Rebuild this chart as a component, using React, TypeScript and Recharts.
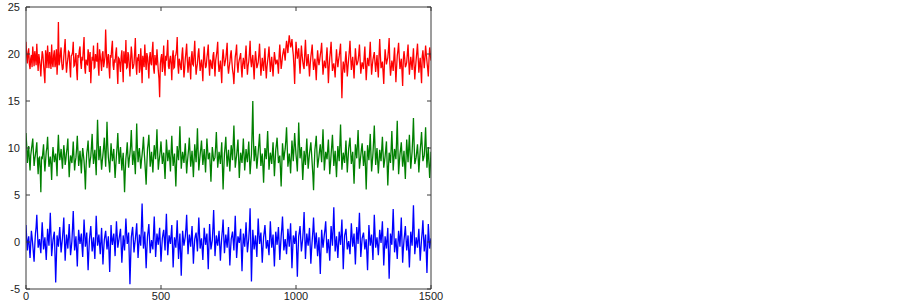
import React from "react";
import { LineChart, Line, XAxis, YAxis } from "recharts";

const SAMPLE_STEP = 5;
const X_TICKS = [0, 500, 1000, 1500];
const Y_TICKS = [-5, 0, 5, 10, 15, 20, 25];

// samples at t = 0, 5, 10, ... 1500
const RED_VALUES = [
  21.3, 19.0, 20.6, 18.4, 19.9, 20.8, 18.7, 19.6, 21.1, 18.2,
  19.4, 17.6, 20.3, 18.9, 16.9, 19.8, 20.9, 18.5, 19.3, 21.0,
  18.6, 20.4, 19.1, 17.8, 23.4, 19.2, 20.7, 18.3, 19.7, 21.6,
  18.0, 19.5, 20.2, 17.5, 19.9, 21.3, 18.8, 20.1, 17.2, 19.6,
  20.8, 18.4, 19.3, 21.8, 17.9, 19.0, 20.5, 18.1, 16.9, 19.7,
  20.9, 18.6, 19.4, 21.2, 17.7, 19.8, 18.2, 20.3, 19.1, 22.6,
  18.5, 20.0, 17.4, 19.6, 21.4, 18.3, 19.2, 20.7, 16.8, 19.5,
  18.1, 20.4, 17.0, 19.3, 21.5, 18.6, 19.9, 17.6, 20.8, 18.4,
  19.0, 21.7, 17.8, 19.4, 18.0, 20.6, 16.9, 19.2, 21.0, 18.3,
  19.7, 17.4, 20.2, 18.8, 21.3, 17.9, 19.1, 20.5, 18.2, 15.4,
  19.6, 18.1, 20.9, 17.7, 19.3, 21.5, 18.4, 19.8, 17.2, 20.4,
  18.6, 19.9, 21.8, 17.9, 19.2, 18.3, 20.7, 17.5, 19.5, 21.1,
  18.0, 19.7, 17.3, 20.3, 18.8, 21.4, 17.8, 19.0, 20.6, 18.2,
  19.4, 17.1, 20.8, 18.5, 19.6, 21.0, 17.7, 19.2, 18.4, 20.2,
  17.6, 19.8, 21.3, 18.1, 19.3, 16.9, 20.5, 18.7, 19.5, 21.2,
  17.9, 19.1, 20.4, 18.3, 16.8, 19.7, 21.0, 18.0, 19.4, 20.1,
  17.5, 19.6, 18.4, 20.9, 17.8, 19.2, 21.4, 18.6, 19.9, 17.3,
  20.3, 18.5, 19.1, 21.1, 17.7, 19.6, 18.2, 20.6, 17.4, 19.3,
  20.8, 18.1, 19.7, 17.6, 20.2, 18.9, 19.4, 17.9, 21.0, 18.4,
  19.8, 20.6, 19.3, 21.4, 20.1, 22.0, 20.7, 21.6, 19.9, 16.8,
  21.3, 19.5, 20.6, 17.9, 20.9, 19.2, 18.4, 21.5, 18.7, 20.0,
  17.6, 19.7, 21.0, 18.3, 19.5, 17.2, 20.4, 18.8, 19.9, 21.2,
  17.8, 19.3, 18.5, 20.7, 16.9, 19.6, 21.3, 18.2, 19.0, 17.5,
  20.5, 18.6, 19.8, 21.1, 15.3, 19.2, 18.0, 20.3, 17.6, 19.5,
  21.4, 18.3, 19.7, 17.4, 20.6, 18.8, 19.3, 21.0, 17.9, 19.1,
  18.4, 20.8, 17.2, 19.6, 18.7, 21.3, 17.8, 19.4, 20.2, 18.1,
  19.9, 17.5, 21.6, 18.5, 19.2, 16.8, 20.5, 18.9, 19.6, 21.7,
  17.7, 19.3, 18.2, 20.7, 17.0, 19.8, 21.2, 18.4, 19.5, 16.6,
  20.3, 18.6, 19.1, 21.0, 17.8, 19.7, 18.3, 20.6, 17.3, 19.4,
  21.1, 18.0, 19.6, 16.9, 20.4, 18.5, 20.9, 19.2, 17.6, 20.7,
  19.3,
];

// samples at t = 2.5, 7.5, ... 1497.5
const RED_MID_VALUES = [
  19.8, 20.1, 18.9, 19.5, 18.6, 19.7, 20.3, 18.8, 19.4, 20.0,
  18.7, 19.2, 19.9, 17.9, 20.4, 18.5, 19.6, 20.2, 18.4, 19.1,
  19.9, 18.6, 20.5, 19.3, 18.8, 20.1, 19.0, 18.5, 20.6, 19.4,
  18.9, 20.3, 18.6, 19.8, 20.2, 18.7, 19.5, 18.3, 19.9, 20.4,
  19.1, 19.7, 20.6, 18.6, 19.4, 18.9, 19.8, 20.2, 18.8, 19.3,
  18.5, 20.0, 19.2, 18.7, 20.5, 19.1, 20.0, 18.6, 19.7, 20.3,
  19.4, 18.6, 19.9, 20.6, 18.8, 19.3, 20.1, 18.4, 19.6, 18.9,
  19.7, 18.8, 20.3, 19.0, 18.5, 20.2, 18.7, 19.4, 19.9, 18.6,
  20.2, 18.9, 19.5, 20.0, 18.4, 19.1, 19.8, 18.6, 19.4, 20.1,
  18.7, 19.6, 19.0, 20.3, 18.5, 19.9, 18.8, 19.3, 17.4, 18.9,
  20.0, 19.2, 18.6, 19.8, 20.3, 18.7, 19.4, 18.9, 19.7, 18.5,
  19.8, 20.4, 18.8, 19.5, 18.6, 19.9, 19.1, 18.4, 20.2, 19.3,
  19.0, 18.6, 19.7, 18.9, 20.1, 19.2, 18.5, 20.0, 19.3, 18.8,
  18.5, 19.6, 19.3, 18.7, 20.2, 18.9, 19.4, 18.6, 19.8, 18.9,
  19.3, 20.4, 19.0, 18.6, 18.2, 19.5, 19.6, 19.1, 20.3, 18.7,
  18.6, 19.9, 19.2, 17.8, 18.4, 20.2, 18.9, 19.0, 19.7, 18.5,
  18.9, 19.0, 19.8, 19.2, 18.7, 20.1, 19.3, 19.4, 18.6, 19.2,
  19.5, 18.8, 20.0, 19.3, 18.6, 18.9, 19.5, 18.7, 18.6, 19.9,
  19.4, 18.9, 18.7, 19.0, 19.6, 19.2, 18.8, 19.8, 19.6, 19.0,
  20.2, 19.9, 20.6, 20.8, 21.2, 21.3, 21.0, 20.6, 18.6, 19.5,
  20.4, 20.0, 19.1, 19.6, 19.9, 18.7, 20.1, 19.8, 19.2, 18.9,
  18.8, 20.3, 19.5, 18.9, 18.6, 19.0, 19.5, 19.3, 20.4, 19.4,
  18.6, 18.8, 19.7, 18.9, 18.5, 20.3, 19.6, 18.7, 18.4, 19.2,
  19.4, 19.3, 20.4, 18.2, 17.9, 18.7, 19.3, 19.0, 18.6, 20.3,
  19.7, 19.0, 18.6, 19.1, 19.6, 19.0, 20.0, 19.4, 18.6, 18.8,
  19.7, 19.0, 18.5, 19.1, 20.0, 19.4, 18.7, 19.8, 19.1, 19.0,
  18.6, 19.8, 19.9, 18.8, 18.1, 18.9, 19.7, 19.3, 20.5, 19.0,
  18.4, 18.9, 19.6, 18.8, 18.5, 20.4, 19.6, 18.9, 18.2, 19.4,
  19.6, 18.8, 20.1, 19.3, 18.8, 19.0, 19.5, 18.7, 18.5, 20.2,
  19.6, 18.9, 18.3, 19.7, 19.5, 19.6, 20.0, 18.5, 19.3, 20.0,
];

const GREEN_VALUES = [
  11.6, 8.4, 10.2, 7.6, 9.8, 11.0, 8.1, 9.3, 10.6, 7.2,
  9.0, 5.3, 8.8, 10.4, 7.5, 9.6, 11.2, 8.0, 9.1, 6.6,
  10.1, 8.5, 9.4, 7.0, 11.4, 8.7, 9.9, 7.8, 10.3, 8.2,
  9.5, 11.0, 6.9, 9.2, 8.4, 10.7, 7.6, 9.0, 11.3, 8.1,
  9.7, 7.3, 10.0, 8.6, 5.6, 9.4, 10.8, 7.9, 9.1, 11.5,
  8.3, 9.8, 7.1, 13.0, 8.7, 10.2, 7.7, 9.3, 11.1, 8.0,
  12.8, 9.0, 7.4, 10.5, 8.6, 9.9, 6.8, 9.2, 11.6, 8.3,
  10.1, 7.6, 9.5, 5.3, 8.9, 10.6, 7.9, 9.4, 11.9, 8.2,
  9.7, 7.2, 12.6, 8.5, 10.0, 7.8, 9.3, 11.2, 8.6, 6.1,
  9.9, 11.4, 8.0, 9.6, 7.4, 10.3, 8.8, 12.0, 7.7, 9.1,
  10.7, 8.3, 9.5, 6.7, 10.9, 8.6, 9.8, 7.5, 11.3, 8.1,
  9.4, 5.9, 10.2, 8.7, 12.3, 7.8, 9.6, 8.4, 10.5, 7.3,
  9.2, 11.1, 8.0, 9.7, 6.9, 10.4, 8.5, 12.1, 7.6, 9.3,
  10.8, 8.2, 9.9, 7.4, 11.0, 8.8, 9.5, 6.4, 10.1, 8.6,
  9.0, 11.7, 7.9, 9.6, 8.3, 10.6, 5.6, 9.4, 11.2, 8.0,
  9.8, 7.5, 10.3, 8.7, 12.4, 7.9, 9.2, 10.9, 6.8, 9.5,
  8.4, 11.0, 7.6, 9.9, 8.5, 10.7, 7.2, 9.3, 15.0, 8.6,
  10.2, 7.8, 9.6, 11.5, 8.1, 9.4, 6.3, 10.0, 8.8, 11.8,
  7.7, 9.5, 8.3, 10.6, 7.0, 9.8, 11.1, 8.4, 9.2, 5.9,
  10.5, 8.7, 9.9, 12.2, 8.0, 9.4, 7.3, 10.8, 8.6, 11.6,
  9.3, 7.5, 12.7, 8.9, 10.1, 6.6, 9.7, 8.2, 11.0, 7.8,
  9.4, 10.6, 8.3, 5.5, 9.8, 11.3, 7.9, 9.1, 10.4, 8.5,
  12.0, 7.6, 9.6, 8.8, 10.9, 7.2, 9.3, 11.4, 8.1, 9.7,
  6.9, 10.2, 8.6, 12.5, 7.7, 9.5, 8.4, 10.8, 7.4, 9.9,
  11.1, 8.3, 9.6, 6.2, 10.4, 8.9, 11.9, 7.8, 9.2, 10.5,
  8.1, 9.7, 5.6, 10.3, 8.7, 11.5, 7.5, 9.4, 12.4, 8.2,
  10.0, 7.3, 9.8, 8.6, 11.2, 7.9, 9.1, 10.7, 6.0, 9.5,
  8.4, 11.8, 7.6, 9.9, 8.8, 12.9, 7.2, 9.3, 10.6, 8.0,
  9.7, 6.7, 10.9, 8.5, 11.4, 7.8, 9.6, 13.2, 8.3, 9.0,
  10.4, 7.4, 9.8, 11.7, 8.6, 9.2, 12.2, 7.9, 10.1, 6.8,
  9.6,
];

const GREEN_MID_VALUES = [
  10.3, 9.4, 8.7, 9.2, 10.4, 9.5, 8.8, 9.9, 8.6, 8.9,
  7.8, 9.1, 9.6, 8.7, 8.6, 10.1, 9.4, 8.5, 8.2, 8.9,
  9.3, 9.0, 8.4, 9.8, 9.6, 9.2, 8.8, 9.1, 9.5, 8.7,
  10.1, 8.8, 8.3, 8.9, 9.4, 9.1, 8.5, 10.0, 9.6, 8.8,
  8.6, 8.9, 9.3, 7.4, 8.0, 10.0, 9.2, 8.6, 10.2, 9.6,
  9.1, 8.6, 10.2, 10.6, 9.4, 8.8, 8.6, 10.1, 9.4, 10.0,
  10.4, 8.3, 9.0, 9.4, 9.2, 8.3, 8.1, 10.2, 9.8, 9.2,
  8.9, 8.7, 7.6, 7.4, 9.6, 9.1, 8.8, 10.3, 9.9, 9.0,
  8.5, 9.8, 10.1, 9.3, 8.9, 8.6, 10.1, 9.7, 7.4, 8.2,
  10.5, 9.7, 8.8, 8.5, 9.0, 9.5, 10.2, 9.6, 8.5, 9.8,
  9.4, 8.9, 8.1, 8.8, 9.8, 9.2, 8.7, 9.6, 9.4, 8.8,
  7.8, 8.3, 9.4, 10.2, 9.8, 8.7, 9.0, 9.5, 8.9, 8.4,
  10.0, 9.5, 8.8, 8.4, 8.7, 9.5, 10.1, 9.6, 8.5, 10.0,
  9.4, 9.0, 8.7, 9.2, 9.9, 9.1, 8.0, 8.5, 9.4, 8.8,
  10.2, 9.8, 8.7, 9.0, 9.5, 8.0, 7.7, 10.2, 9.4, 8.9,
  8.7, 9.0, 9.6, 10.5, 10.0, 8.6, 10.0, 8.9, 8.3, 9.0,
  9.6, 9.3, 8.7, 9.1, 9.6, 9.0, 8.3, 11.8, 10.8, 9.4,
  9.0, 8.7, 10.5, 9.7, 8.9, 8.0, 8.4, 9.5, 10.2, 9.8,
  8.6, 9.0, 9.4, 8.9, 8.4, 10.4, 9.7, 8.8, 7.7, 8.2,
  9.6, 9.4, 10.9, 10.1, 8.7, 8.5, 9.0, 9.7, 10.0, 10.4,
  8.5, 9.9, 10.6, 9.5, 8.4, 8.1, 9.0, 9.6, 9.4, 8.6,
  10.0, 9.5, 7.1, 8.0, 10.5, 9.6, 8.5, 9.8, 9.4, 10.2,
  9.8, 8.6, 9.2, 9.9, 9.1, 8.2, 10.3, 9.7, 8.9, 8.3,
  8.7, 9.4, 10.4, 10.0, 8.6, 9.0, 9.5, 9.1, 8.7, 10.5,
  9.6, 8.9, 8.0, 8.3, 9.7, 10.4, 9.8, 8.5, 9.9, 9.3,
  8.9, 7.8, 8.1, 9.5, 10.1, 9.4, 8.4, 10.8, 10.2, 9.1,
  8.6, 8.5, 9.2, 9.9, 9.5, 8.5, 9.9, 8.3, 7.9, 9.0,
  10.0, 9.7, 8.8, 9.4, 10.7, 9.9, 8.3, 9.9, 9.2, 8.8,
  8.2, 8.9, 9.7, 10.0, 9.5, 8.7, 11.2, 10.4, 8.6, 9.7,
  9.0, 8.6, 10.6, 10.1, 8.9, 10.5, 9.8, 9.1, 8.4, 8.1,
];

const BLUE_VALUES = [
  1.8, -0.9, 0.6, -1.7, 1.2, -0.3, -2.1, 0.9, 2.9, -0.6,
  0.3, -1.2, 2.1, -0.8, 0.5, -1.9, 1.4, -0.4, 3.1, -1.5,
  0.2, 1.1, -4.3, 0.7, -0.5, 1.6, -1.1, 0.4, 2.6, -2.0,
  0.8, -0.7, 1.9, -1.4, 0.1, 3.3, -0.9, 0.6, -2.6, 1.3,
  -0.2, 0.9, -1.6, 2.4, -0.5, 1.0, -3.0, 0.3, 1.7, -1.0,
  0.5, -1.8, 2.8, -0.4, 0.8, -1.3, 1.5, -2.4, 0.2, 1.2,
  -0.8, 0.6, -3.2, 1.8, -0.3, 0.9, -1.5, 2.2, -0.6, 0.4,
  1.4, -2.2, 0.7, -0.9, 2.5, -0.2, 1.0, -4.5, 0.5, 1.6,
  -1.1, 0.3, 2.0, -1.7, 0.8, -0.4, 4.1, -0.7, 1.1, -2.8,
  0.6, 1.9, -1.2, 0.2, -0.8, 2.7, -1.6, 0.9, -0.3, 1.5,
  -2.1, 0.4, 1.3, -0.9, 3.0, -1.4, 0.7, -0.2, 1.8, -2.7,
  0.5, -0.6, 2.3, -1.8, 0.9, -3.6, 1.2, -0.4, 0.6, 2.9,
  -1.3, 0.8, -0.5, 1.7, -2.3, 0.3, 1.0, -1.0, 2.6, -0.7,
  0.4, -1.9, 1.5, -0.3, 0.9, -2.9, 1.9, -0.8, 0.2, 3.4,
  -1.5, 0.7, -0.4, 1.2, -2.0, 0.5, 2.4, -1.2, 0.8, -0.6,
  1.6, -2.5, 0.3, 1.1, -0.9, 2.8, -1.7, 0.6, -0.1, 1.4,
  -3.1, 0.9, -0.5, 2.1, -1.1, 0.4, 3.6, -4.2, 1.3, -0.8,
  0.7, -1.6, 2.5, -0.2, 1.0, -2.2, 0.5, 1.8, -0.7, 0.2,
  -1.4, 2.2, -0.6, 0.8, -2.6, 1.1, -0.3, 1.6, -1.9, 0.6,
  2.7, -0.9, 0.3, -1.3, 1.4, -0.5, 2.0, -2.8, 0.7, -0.2,
  1.2, -3.7, 0.6, 1.7, -1.0, 0.4, 3.2, -1.8, 0.9, -0.4,
  1.5, -2.3, 0.2, 2.6, -0.7, 1.0, -1.5, 0.5, -3.4, 1.3,
  -0.6, 0.8, 2.2, -1.2, 0.3, -2.0, 1.7, -0.4, 3.7, -1.0,
  0.6, -1.7, 1.1, -0.3, 2.4, -2.9, 0.7, 1.4, -0.8, 0.1,
  -1.3, 2.0, -0.5, 0.9, -2.4, 1.6, -0.2, 3.1, -1.6, 0.4,
  1.0, -0.8, 0.3, -3.0, 1.8, -0.4, 0.8, -1.9, 2.9, -0.6,
  0.5, -1.4, 1.3, -0.1, 2.2, -2.5, 0.6, -0.7, 1.5, -3.9,
  0.9, -0.3, 3.5, -1.1, 0.4, -1.8, 1.2, -0.5, 2.6, -2.2,
  0.2, 1.7, -0.9, 0.7, -2.7, 1.1, -0.4, 3.9, -1.3, 0.5,
  -0.6, 1.4, -2.0, 0.3, 2.3, -1.0, 0.8, -3.3, 1.9, -0.7,
  0.4,
];

const BLUE_MID_VALUES = [
  0.4, 0.1, -0.6, -0.2, 0.5, -1.2, -0.4, 1.6, 1.0, -0.1,
  -0.5, 0.6, 0.7, -0.2, -0.7, -0.3, 0.5, 1.2, 0.8, -0.6,
  0.7, -1.5, -1.8, 0.1, 0.6, 0.2, -0.3, 1.4, 0.2, -0.5,
  0.1, 0.6, 0.3, -0.7, 1.6, 1.1, -0.2, -0.9, -0.4, 0.5,
  0.4, -0.5, 0.3, 0.9, 0.2, -1.0, -1.2, 1.0, 0.3, -0.3,
  -0.6, 0.4, 1.1, 0.2, -0.3, 0.1, -0.4, -0.9, 0.7, 0.2,
  -0.1, -1.2, -0.7, 0.3, 0.4, -0.2, 0.4, 0.8, -0.1, 0.9,
  -0.4, -0.8, -0.1, 0.8, 1.0, 0.3, -1.6, -1.9, 1.1, 0.2,
  -0.3, 1.1, 0.2, -0.5, 0.2, 1.7, 1.5, 0.1, -0.8, -0.9,
  1.2, 0.3, -0.5, -0.3, 1.0, 0.6, -0.4, 0.3, 0.6, -0.3,
  -0.8, 0.9, 0.2, 1.1, 0.7, -0.3, 0.3, 0.8, -0.4, -0.9,
  0.0, 0.8, 0.1, -0.4, -1.2, -1.1, 0.4, 0.1, 1.5, 0.8,
  -0.2, 0.2, 0.6, -0.3, -0.8, 0.7, 0.0, 0.8, 0.9, -0.1,
  -0.7, -0.2, 0.6, 0.3, -0.9, -0.4, 0.5, -0.3, 1.6, 1.0,
  -0.4, 0.1, 0.4, -0.4, -0.6, 1.3, 0.5, -0.2, 0.1, 0.6,
  -0.5, -0.9, 0.7, 0.1, 0.8, 0.6, -0.6, 0.3, 0.6, -0.8,
  -0.9, 0.2, 0.7, 0.5, -0.4, 1.6, -0.2, -1.3, 0.2, -0.1,
  -0.4, 0.5, 1.0, 0.4, -0.5, -0.8, 1.1, 0.6, -0.3, -0.6,
  0.4, 0.7, 0.1, -0.9, -0.7, 0.4, 0.6, -0.1, -0.6, 1.5,
  0.9, -0.3, -0.5, 0.0, 0.5, 0.7, -0.4, -1.0, 0.3, 0.5,
  -1.1, -1.2, 1.1, 0.3, -0.3, 1.6, 0.7, -0.4, 0.2, 0.5,
  -0.4, -0.9, 1.2, 0.9, 0.2, -0.2, -0.5, -1.4, -1.0, 0.3,
  0.1, 1.4, 0.5, -0.4, -0.8, 0.0, 0.6, 1.5, 1.2, -0.2,
  -0.5, -0.3, 0.4, 1.0, -0.1, -1.0, 1.0, 0.3, -0.3, -0.6,
  0.3, 0.7, 0.2, -0.7, -0.4, 0.7, 1.4, 0.8, -0.6, 0.7,
  0.1, -0.2, -1.3, -0.6, 0.7, 0.2, -0.5, 0.4, 1.1, -0.1,
  -0.4, -0.1, 0.6, 1.0, -0.1, -0.9, 0.0, 0.4, -1.0, -1.5,
  0.3, 1.5, 1.2, -0.3, -0.7, -0.2, 0.4, 1.0, 0.1, -0.8,
  0.9, 0.4, -0.1, -1.0, -0.8, 0.3, 1.6, 1.2, -0.4, 0.0,
  0.4, -0.3, -0.8, 1.1, 0.6, -0.1, -1.2, -0.7, 0.6, -0.1,
];

const data: { t: number; red?: number; green?: number; blue?: number }[] = [];
RED_VALUES.forEach((r, i) => {
  data.push({ t: i * SAMPLE_STEP, red: r, green: GREEN_VALUES[i], blue: BLUE_VALUES[i] });
  if (i < RED_MID_VALUES.length) {
    data.push({
      t: i * SAMPLE_STEP + SAMPLE_STEP / 2,
      red: RED_MID_VALUES[i],
      green: GREEN_MID_VALUES[i],
      blue: BLUE_MID_VALUES[i],
    });
  }
});

const FONT = "'Liberation Sans', Arial, sans-serif";
const AXIS_COLOR = "#3a3a3a";
const TEXT_COLOR = "#222";
const TICK_LEN = 4;
const SERIES_WIDTH = 1.3;

const BottomTick = (props: any) => {
  const { x, y, payload } = props;
  return (
    <g>
      <line x1={x} y1={y} x2={x} y2={y - TICK_LEN} stroke={AXIS_COLOR} strokeWidth={1} />
      <text x={x} y={y + 11} textAnchor="middle" fontSize={11} fontFamily={FONT} fill={TEXT_COLOR}>
        {payload.value}
      </text>
    </g>
  );
};

const TopTick = (props: any) => {
  const { x, y } = props;
  return <line x1={x} y1={y} x2={x} y2={y + TICK_LEN} stroke={AXIS_COLOR} strokeWidth={1} />;
};

const LeftTick = (props: any) => {
  const { x, y, payload } = props;
  return (
    <g>
      <line x1={x} y1={y} x2={x + TICK_LEN} y2={y} stroke={AXIS_COLOR} strokeWidth={1} />
      <text x={x - 6} y={y + 4} textAnchor="end" fontSize={11} fontFamily={FONT} fill={TEXT_COLOR}>
        {payload.value}
      </text>
    </g>
  );
};

const RightTick = (props: any) => {
  const { x, y } = props;
  return <line x1={x} y1={y} x2={x - TICK_LEN} y2={y} stroke={AXIS_COLOR} strokeWidth={1} />;
};

export default function App() {
  return (
    <div style={{ position: "absolute", left: 0, top: 0, width: 903, height: 303, background: "#fff" }}>
      <LineChart
        width={460}
        height={303}
        data={data}
        margin={{ top: 6, right: 28, bottom: 0, left: 0 }}
        style={{ overflow: "visible" }}
      >
        <XAxis
          xAxisId="b"
          dataKey="t"
          type="number"
          domain={[0, 1500]}
          ticks={X_TICKS}
          interval={0}
          height={14}
          tickSize={0}
          tickMargin={0}
          tickLine={false}
          axisLine={{ stroke: AXIS_COLOR }}
          tick={<BottomTick />}
          allowDataOverflow
        />
        <XAxis
          xAxisId="t"
          dataKey="t"
          type="number"
          orientation="top"
          domain={[0, 1500]}
          ticks={X_TICKS}
          interval={0}
          height={1}
          tickSize={0}
          tickMargin={0}
          tickLine={false}
          axisLine={{ stroke: AXIS_COLOR }}
          tick={<TopTick />}
          allowDataOverflow
        />
        <YAxis
          yAxisId="l"
          type="number"
          domain={[-5, 25]}
          ticks={Y_TICKS}
          interval={0}
          width={26}
          tickSize={0}
          tickMargin={0}
          tickLine={false}
          axisLine={{ stroke: AXIS_COLOR }}
          tick={<LeftTick />}
          allowDataOverflow
        />
        <YAxis
          yAxisId="r"
          type="number"
          orientation="right"
          domain={[-5, 25]}
          ticks={Y_TICKS}
          interval={0}
          width={1}
          tickSize={0}
          tickMargin={0}
          tickLine={false}
          axisLine={{ stroke: AXIS_COLOR }}
          tick={<RightTick />}
          allowDataOverflow
        />
        <Line xAxisId="b" yAxisId="l" dataKey="red" stroke="#ff0000" strokeWidth={SERIES_WIDTH} dot={false} isAnimationActive={false} />
        <Line xAxisId="b" yAxisId="l" dataKey="green" stroke="#008000" strokeWidth={SERIES_WIDTH} dot={false} isAnimationActive={false} />
        <Line xAxisId="b" yAxisId="l" dataKey="blue" stroke="#0000ff" strokeWidth={SERIES_WIDTH} dot={false} isAnimationActive={false} />
        <Line xAxisId="t" yAxisId="r" dataKey="blue" stroke="none" strokeWidth={0} dot={false} isAnimationActive={false} legendType="none" />
      </LineChart>
    </div>
  );
}
